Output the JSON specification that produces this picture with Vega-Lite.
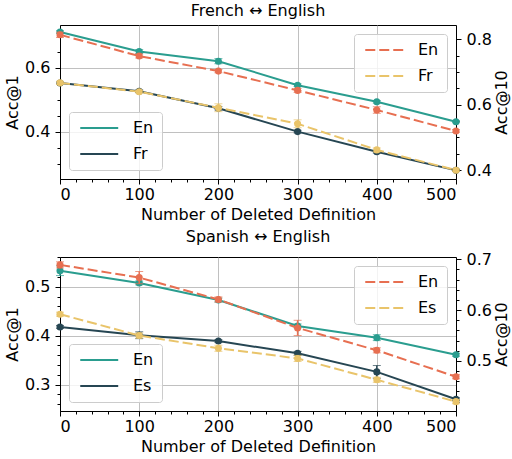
{
  "$schema": "https://vega.github.io/schema/vega-lite/v6.json",
  "padding": {"left": 4, "top": 2, "right": 2, "bottom": 5},
  "spacing": 5,
  "config": {
    "font": "DejaVu Sans",
    "view": {"stroke": "#000", "strokeWidth": 1},
    "axis": {"labelFontSize": 16, "titleFontSize": 16, "labelColor": "#000", "titleColor": "#000", "titleFontWeight": "normal", "domainColor": "#000", "tickColor": "#000", "gridColor": "#b0b0b0", "gridWidth": 0.8, "tickSize": 5, "labelFont": "DejaVu Sans", "titleFont": "DejaVu Sans", "labelPadding": 5, "titlePadding": 4},
    "axisX": {"labelPadding": 2, "titlePadding": 4},
    "title": {"fontSize": 16, "fontWeight": "normal", "font": "DejaVu Sans", "color": "#000", "offset": 6},
    "legend": {"title": null, "labelFontSize": 16, "labelFont": "DejaVu Sans", "labelColor": "#000", "fillColor": "rgba(255,255,255,0.8)", "strokeColor": "#cccccc", "cornerRadius": 3, "padding": 8, "symbolType": "M-1,0H7", "symbolSize": 90, "symbolStrokeWidth": 2, "rowPadding": 10, "labelOffset": 40, "offset": 9}
  },
  "datasets": {
    "fr": [
      {"n": 0, "lang": "En", "metric": "acc1", "acc": 0.712, "err": 0.004},
      {"n": 100, "lang": "En", "metric": "acc1", "acc": 0.651, "err": 0.006},
      {"n": 200, "lang": "En", "metric": "acc1", "acc": 0.621, "err": 0.008},
      {"n": 300, "lang": "En", "metric": "acc1", "acc": 0.546, "err": 0.004},
      {"n": 400, "lang": "En", "metric": "acc1", "acc": 0.494, "err": 0.004},
      {"n": 500, "lang": "En", "metric": "acc1", "acc": 0.432, "err": 0.003},
      {"n": 0, "lang": "Fr", "metric": "acc1", "acc": 0.553, "err": 0.003},
      {"n": 100, "lang": "Fr", "metric": "acc1", "acc": 0.527, "err": 0.004},
      {"n": 200, "lang": "Fr", "metric": "acc1", "acc": 0.474, "err": 0.005},
      {"n": 300, "lang": "Fr", "metric": "acc1", "acc": 0.401, "err": 0.004},
      {"n": 400, "lang": "Fr", "metric": "acc1", "acc": 0.338, "err": 0.004},
      {"n": 500, "lang": "Fr", "metric": "acc1", "acc": 0.280, "err": 0.003},
      {"n": 0, "lang": "En", "metric": "acc10", "acc": 0.814, "err": 0.008},
      {"n": 100, "lang": "En", "metric": "acc10", "acc": 0.749, "err": 0.006},
      {"n": 200, "lang": "En", "metric": "acc10", "acc": 0.703, "err": 0.005},
      {"n": 300, "lang": "En", "metric": "acc10", "acc": 0.644, "err": 0.006},
      {"n": 400, "lang": "En", "metric": "acc10", "acc": 0.584, "err": 0.01},
      {"n": 500, "lang": "En", "metric": "acc10", "acc": 0.520, "err": 0.004},
      {"n": 0, "lang": "Fr", "metric": "acc10", "acc": 0.667, "err": 0.005},
      {"n": 100, "lang": "Fr", "metric": "acc10", "acc": 0.640, "err": 0.004},
      {"n": 200, "lang": "Fr", "metric": "acc10", "acc": 0.591, "err": 0.012},
      {"n": 300, "lang": "Fr", "metric": "acc10", "acc": 0.542, "err": 0.012},
      {"n": 400, "lang": "Fr", "metric": "acc10", "acc": 0.462, "err": 0.006},
      {"n": 500, "lang": "Fr", "metric": "acc10", "acc": 0.400, "err": 0.004}
    ],
    "es": [
      {"n": 0, "lang": "En", "metric": "acc1", "acc": 0.533, "err": 0.01},
      {"n": 100, "lang": "En", "metric": "acc1", "acc": 0.508, "err": 0.004},
      {"n": 200, "lang": "En", "metric": "acc1", "acc": 0.473, "err": 0.004},
      {"n": 300, "lang": "En", "metric": "acc1", "acc": 0.420, "err": 0.004},
      {"n": 400, "lang": "En", "metric": "acc1", "acc": 0.396, "err": 0.006},
      {"n": 500, "lang": "En", "metric": "acc1", "acc": 0.361, "err": 0.003},
      {"n": 0, "lang": "Es", "metric": "acc1", "acc": 0.418, "err": 0.003},
      {"n": 100, "lang": "Es", "metric": "acc1", "acc": 0.401, "err": 0.007},
      {"n": 200, "lang": "Es", "metric": "acc1", "acc": 0.389, "err": 0.003},
      {"n": 300, "lang": "Es", "metric": "acc1", "acc": 0.364, "err": 0.004},
      {"n": 400, "lang": "Es", "metric": "acc1", "acc": 0.326, "err": 0.013},
      {"n": 500, "lang": "Es", "metric": "acc1", "acc": 0.270, "err": 0.003},
      {"n": 0, "lang": "En", "metric": "acc10", "acc": 0.689, "err": 0.006},
      {"n": 100, "lang": "En", "metric": "acc10", "acc": 0.664, "err": 0.012},
      {"n": 200, "lang": "En", "metric": "acc10", "acc": 0.621, "err": 0.005},
      {"n": 300, "lang": "En", "metric": "acc10", "acc": 0.565, "err": 0.015},
      {"n": 400, "lang": "En", "metric": "acc10", "acc": 0.521, "err": 0.005},
      {"n": 500, "lang": "En", "metric": "acc10", "acc": 0.469, "err": 0.004},
      {"n": 0, "lang": "Es", "metric": "acc10", "acc": 0.592, "err": 0.004},
      {"n": 100, "lang": "Es", "metric": "acc10", "acc": 0.550, "err": 0.005},
      {"n": 200, "lang": "Es", "metric": "acc10", "acc": 0.525, "err": 0.006},
      {"n": 300, "lang": "Es", "metric": "acc10", "acc": 0.505, "err": 0.006},
      {"n": 400, "lang": "Es", "metric": "acc10", "acc": 0.463, "err": 0.005},
      {"n": 500, "lang": "Es", "metric": "acc10", "acc": 0.420, "err": 0.004}
    ]
  },
  "vconcat": [
    {
      "title": "French ↔ English",
      "width": 396, "height": 154,
      "data": {"name": "fr"},
      "encoding": {
        "x": {"field": "n", "type": "quantitative", "scale": {"domain": [0, 500], "nice": false}, "axis": {"values": [0, 100, 200, 300, 400, 500], "grid": true, "title": "Number of Deleted Definition"}}
      },
      "layer": [
        {
          "transform": [{"filter": "datum.metric == 'acc1'"}],
          "encoding": {
            "y": {"field": "acc", "type": "quantitative", "scale": {"domain": [0.253, 0.734], "nice": false, "zero": false}, "axis": {"orient": "left", "values": [0.4, 0.6], "grid": true, "title": "Acc@1", "format": ".1f"}},
            "color": {"field": "lang", "type": "nominal", "scale": {"domain": ["En", "Fr"], "range": ["#2a9d8f", "#264653"]}, "legend": null}
          },
          "layer": [
            {"mark": {"type": "line", "strokeWidth": 2}, "encoding": {"color": {"field": "lang", "type": "nominal", "scale": {"domain": ["En", "Fr"], "range": ["#2a9d8f", "#264653"]}, "legend": {"orient": "bottom-left"}}}},
            {"mark": {"type": "errorbar", "ticks": {"size": 8}, "rule": {"strokeWidth": 1.5}}, "encoding": {"y": {"field": "acc", "type": "quantitative", "axis": null}, "yError": {"field": "err"}}},
            {"mark": {"type": "point", "filled": true, "size": 50, "opacity": 1}, "encoding": {"y": {"field": "acc", "type": "quantitative", "axis": {"orient": "left", "values": [0.3, 0.35, 0.45, 0.5, 0.55, 0.65, 0.7], "labels": false, "grid": false, "domain": false, "tickSize": 3, "title": null}}}}
          ],
          "resolve": {"axis": {"y": "independent"}}
        },
        {
          "transform": [{"filter": "datum.metric == 'acc10'"}],
          "encoding": {
            "x": {"field": "n", "type": "quantitative", "axis": {"orient": "bottom", "values": [20, 40, 60, 80, 120, 140, 160, 180, 220, 240, 260, 280, 320, 340, 360, 380, 420, 440, 460, 480], "labels": false, "grid": false, "domain": false, "tickSize": 3, "title": null}},
            "y": {"field": "acc", "type": "quantitative", "scale": {"domain": [0.373, 0.844], "nice": false, "zero": false}, "axis": {"orient": "right", "values": [0.4, 0.6, 0.8], "grid": false, "title": "Acc@10", "titleAngle": 270, "titleBaseline": "top", "titlePadding": 2, "format": ".1f"}},
            "color": {"field": "lang", "type": "nominal", "scale": {"domain": ["En", "Fr"], "range": ["#e76f51", "#e9c46a"]}, "legend": null}
          },
          "layer": [
            {"mark": {"type": "line", "strokeWidth": 2, "strokeDash": [10, 4]}, "encoding": {"color": {"field": "lang", "type": "nominal", "scale": {"domain": ["En", "Fr"], "range": ["#e76f51", "#e9c46a"]}, "legend": {"orient": "top-right", "symbolDash": [10, 4]}}}},
            {"mark": {"type": "errorbar", "ticks": {"size": 8}, "rule": {"strokeWidth": 1.5}}, "encoding": {"y": {"field": "acc", "type": "quantitative", "axis": null}, "yError": {"field": "err"}}},
            {"mark": {"type": "point", "filled": true, "size": 50, "opacity": 1}, "encoding": {"y": {"field": "acc", "type": "quantitative", "axis": {"orient": "right", "values": [0.45, 0.5, 0.55, 0.65, 0.7, 0.75], "labels": false, "grid": false, "domain": false, "tickSize": 3, "title": null}}}}
          ],
          "resolve": {"axis": {"y": "independent"}}
        }
      ],
      "resolve": {"scale": {"y": "independent", "color": "independent"}, "axis": {"x": "independent"}}
    },
    {
      "title": "Spanish ↔ English",
      "width": 396, "height": 154,
      "data": {"name": "es"},
      "encoding": {
        "x": {"field": "n", "type": "quantitative", "scale": {"domain": [0, 500], "nice": false}, "axis": {"values": [0, 100, 200, 300, 400, 500], "grid": true, "title": "Number of Deleted Definition"}}
      },
      "layer": [
        {
          "transform": [{"filter": "datum.metric == 'acc1'"}],
          "encoding": {
            "y": {"field": "acc", "type": "quantitative", "scale": {"domain": [0.246, 0.561], "nice": false, "zero": false}, "axis": {"orient": "left", "values": [0.3, 0.4, 0.5], "grid": true, "title": "Acc@1", "format": ".1f"}},
            "color": {"field": "lang", "type": "nominal", "scale": {"domain": ["En", "Es"], "range": ["#2a9d8f", "#264653"]}, "legend": null}
          },
          "layer": [
            {"mark": {"type": "line", "strokeWidth": 2}, "encoding": {"color": {"field": "lang", "type": "nominal", "scale": {"domain": ["En", "Es"], "range": ["#2a9d8f", "#264653"]}, "legend": {"orient": "bottom-left"}}}},
            {"mark": {"type": "errorbar", "ticks": {"size": 8}, "rule": {"strokeWidth": 1.5}}, "encoding": {"y": {"field": "acc", "type": "quantitative", "axis": null}, "yError": {"field": "err"}}},
            {"mark": {"type": "point", "filled": true, "size": 50, "opacity": 1}, "encoding": {"y": {"field": "acc", "type": "quantitative", "axis": {"orient": "left", "values": [0.26, 0.28, 0.32, 0.34, 0.36, 0.38, 0.42, 0.44, 0.46, 0.48, 0.52, 0.54, 0.56], "labels": false, "grid": false, "domain": false, "tickSize": 3, "title": null}}}}
          ],
          "resolve": {"axis": {"y": "independent"}}
        },
        {
          "transform": [{"filter": "datum.metric == 'acc10'"}],
          "encoding": {
            "x": {"field": "n", "type": "quantitative", "axis": {"orient": "bottom", "values": [20, 40, 60, 80, 120, 140, 160, 180, 220, 240, 260, 280, 320, 340, 360, 380, 420, 440, 460, 480], "labels": false, "grid": false, "domain": false, "tickSize": 3, "title": null}},
            "y": {"field": "acc", "type": "quantitative", "scale": {"domain": [0.4016, 0.7045], "nice": false, "zero": false}, "axis": {"orient": "right", "values": [0.5, 0.6, 0.7], "grid": false, "title": "Acc@10", "titleAngle": 270, "titleBaseline": "top", "titlePadding": 2, "format": ".1f"}},
            "color": {"field": "lang", "type": "nominal", "scale": {"domain": ["En", "Es"], "range": ["#e76f51", "#e9c46a"]}, "legend": null}
          },
          "layer": [
            {"mark": {"type": "line", "strokeWidth": 2, "strokeDash": [10, 4]}, "encoding": {"color": {"field": "lang", "type": "nominal", "scale": {"domain": ["En", "Es"], "range": ["#e76f51", "#e9c46a"]}, "legend": {"orient": "top-right", "symbolDash": [10, 4]}}}},
            {"mark": {"type": "errorbar", "ticks": {"size": 8}, "rule": {"strokeWidth": 1.5}}, "encoding": {"y": {"field": "acc", "type": "quantitative", "axis": null}, "yError": {"field": "err"}}},
            {"mark": {"type": "point", "filled": true, "size": 50, "opacity": 1}, "encoding": {"y": {"field": "acc", "type": "quantitative", "axis": {"orient": "right", "values": [0.42, 0.44, 0.46, 0.48, 0.52, 0.54, 0.56, 0.58, 0.62, 0.64, 0.66, 0.68], "labels": false, "grid": false, "domain": false, "tickSize": 3, "title": null}}}}
          ],
          "resolve": {"axis": {"y": "independent"}}
        }
      ],
      "resolve": {"scale": {"y": "independent", "color": "independent"}, "axis": {"x": "independent"}}
    }
  ]
}
